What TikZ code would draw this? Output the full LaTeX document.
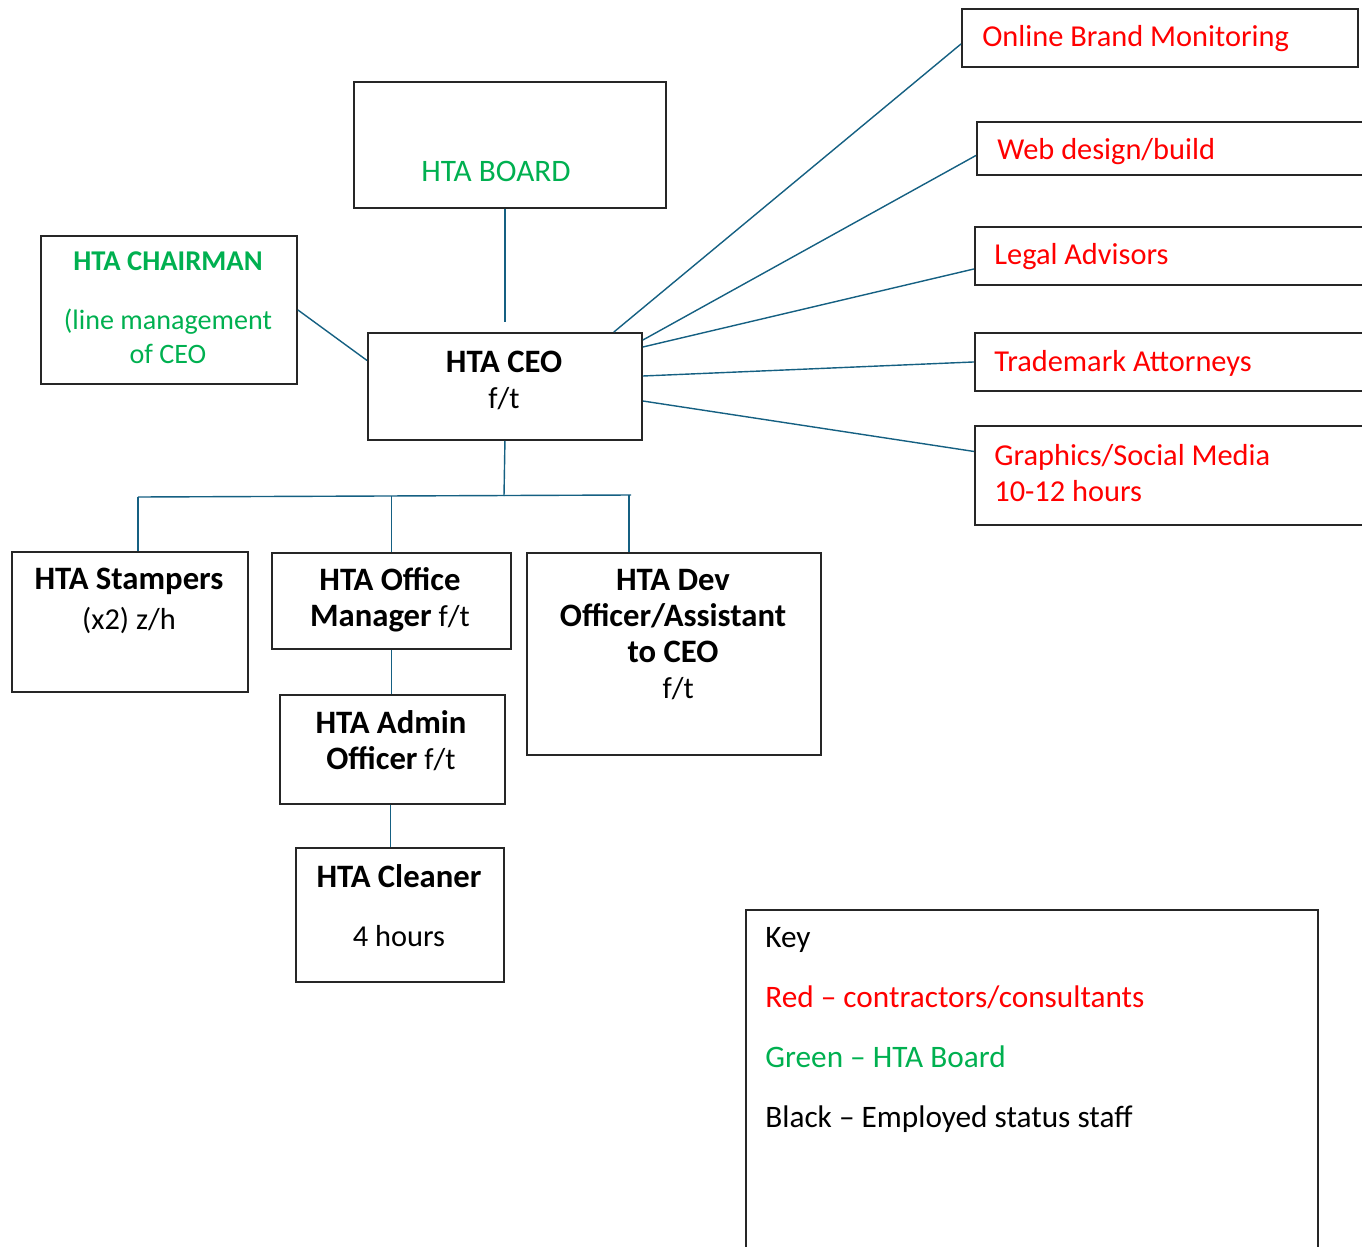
\documentclass[tikz,border=0pt]{standalone}
\usepackage{fontspec}
\setmainfont{Carlito}
\usetikzlibrary{calc}
\definecolor{linkblue}{RGB}{21,96,130}
\definecolor{hgreen}{RGB}{0,176,80}
\definecolor{hred}{RGB}{255,0,0}
\definecolor{edge}{RGB}{38,38,38}
\newcommand{\hb}[1]{{\fontsize{18.6}{20.5}\selectfont\bfseries #1}}
\tikzset{
  box/.style={draw=edge, line width=1.1pt, anchor=north west, inner sep=0pt},
  lnk/.style={draw=linkblue, line width=0.8pt},
  txt/.style={align=center, inner sep=0pt, font=\fontsize{17.3}{20.5}\selectfont, text=black},
  ctr/.style={txt, text=hred, align=left, anchor=west},
}
\begin{document}
\begin{tikzpicture}[x=0.02cm, y=-0.02cm]
  \useasboundingbox (0,0) rectangle (1362,1247);
  \clip (0,0) rectangle (1362,1247);

  % board and ceo
  \node[box, minimum width=6.24cm, minimum height=2.52cm] (board) at (353,81) {};
  \node[box, minimum width=5.12cm, minimum height=2.96cm] (chair) at (40,235) {};
  \node[box, minimum width=5.48cm, minimum height=2.14cm] (ceo) at (367,332) {};

  \node[txt, text=hgreen, font=\fontsize{17.8}{20.5}\selectfont] (boardtxt) at (496,171) {HTA BOARD};
  \node[txt, text=hgreen, font=\fontsize{16}{19.5}\selectfont] (chairtxt) at (168,308)
    {{\fontsize{16.3}{19.5}\selectfont\bfseries HTA CHAIRMAN}\\[14pt](line management\\of CEO};
  \node[txt] (ceotxt) at (504,380) {\hb{HTA CEO}\\f/t};

  % contractors
  \node[box, minimum width=7.92cm, minimum height=1.16cm] (brand) at (961,8) {};
  \node[box, minimum width=8.48cm, minimum height=1.06cm] (web) at (976,121) {};
  \node[box, minimum width=8.52cm, minimum height=1.16cm] (legal) at (974,226) {};
  \node[box, minimum width=8.52cm, minimum height=1.16cm] (tmark) at (974,332) {};
  \node[box, minimum width=8.52cm, minimum height=1.98cm] (gfx) at (974,425) {};

  \node[ctr] (brandtxt) at (982,39) {Online Brand Monitoring};
  \node[ctr] (webtxt) at (997,152) {Web design/build};
  \node[ctr] (legaltxt) at (994,257) {Legal Advisors};
  \node[ctr] (tmarktxt) at (994,363) {Trademark Attorneys};
  \node[ctr] (gfxtxt) at (994,473) {Graphics/Social Media\\10-12 hours};

  \draw[lnk] (board.south -| ceo.north) -- ($(ceo.north)+(0,-10)$);
  \draw[lnk] (chair.east) -- ($(ceo.west)+(0,-26)$);
  \draw[lnk] ($(ceo.north east)+(-29,0)$) -- ($(brand.west)+(0,6)$);
  \draw[lnk] ($(ceo.north east)+(0,8)$) -- ($(web.west)+(0,7)$);
  \draw[lnk] ($(ceo.north east)+(0,15)$) -- ($(legal.west)+(0,13)$);
  \draw[lnk] ($(ceo.north east)+(0,44)$) -- (tmark.west);
  \draw[lnk] ($(ceo.north east)+(0,69)$) -- ($(gfx.west)+(0,-24)$);

  % staff
  \node[box, minimum width=4.72cm, minimum height=2.8cm] (stamp) at (11,551) {};
  \node[box, minimum width=4.78cm, minimum height=1.92cm] (offman) at (271,552) {};
  \node[box, minimum width=5.88cm, minimum height=4.04cm] (dev) at (526,552) {};
  \node[box, minimum width=4.5cm, minimum height=2.18cm] (admin) at (279,694) {};
  \node[box, minimum width=4.16cm, minimum height=2.68cm] (clean) at (295,847) {};

  \node[txt] (stamptxt) at (129,601) {\hb{HTA Stampers}\\[2pt](x2) z/h};
  \node[txt] (offmantxt) at (390,600) {\hb{HTA Office}\\\hb{Manager} f/t};
  \node[txt] (devtxt) at (673,635) {\hb{HTA Dev}\\\hb{Officer/Assistant}\\\hb{to CEO}\\\hspace*{6pt}f/t};
  \node[txt] (admintxt) at (391,741) {\hb{HTA Admin}\\\hb{Officer} f/t};
  \node[txt] (cleantxt) at (399,906) {\hb{HTA Cleaner}\\[13pt]4 hours};

  \coordinate (bus) at (504,496);
  \coordinate (busl) at (138,497);
  \coordinate (busr) at (631,495);
  \coordinate (devtop) at (629,495);
  \draw[lnk] (ceo.south) -- (bus);
  \draw[lnk] (busl) -- (busr);
  \draw[lnk] (busl) -- (busl |- stamp.north);
  \draw[lnk] (offman.north |- bus) -- (offman.north);
  \draw[lnk] (devtop) -- (devtop |- dev.north);
  \draw[lnk] (offman.south) -- (offman.south |- admin.north);
  \draw[lnk] ($(admin.south)+(-2,0)$) -- ($(admin.south |- clean.north)+(-2,0)$);

  % key
  \node[box, minimum width=11.44cm, minimum height=7.42cm] (key) at (745,909) {};
  \node[txt, align=left, anchor=west, font=\fontsize{17.8}{20.5}\selectfont] (keytxt) at (765,1030)
    {Key\\[13.5pt]
     \textcolor{hred}{Red -- contractors/consultants}\\[13.5pt]
     \textcolor{hgreen}{Green -- HTA Board}\\[13.5pt]
     Black -- Employed status staff};
\end{tikzpicture}
\end{document}
